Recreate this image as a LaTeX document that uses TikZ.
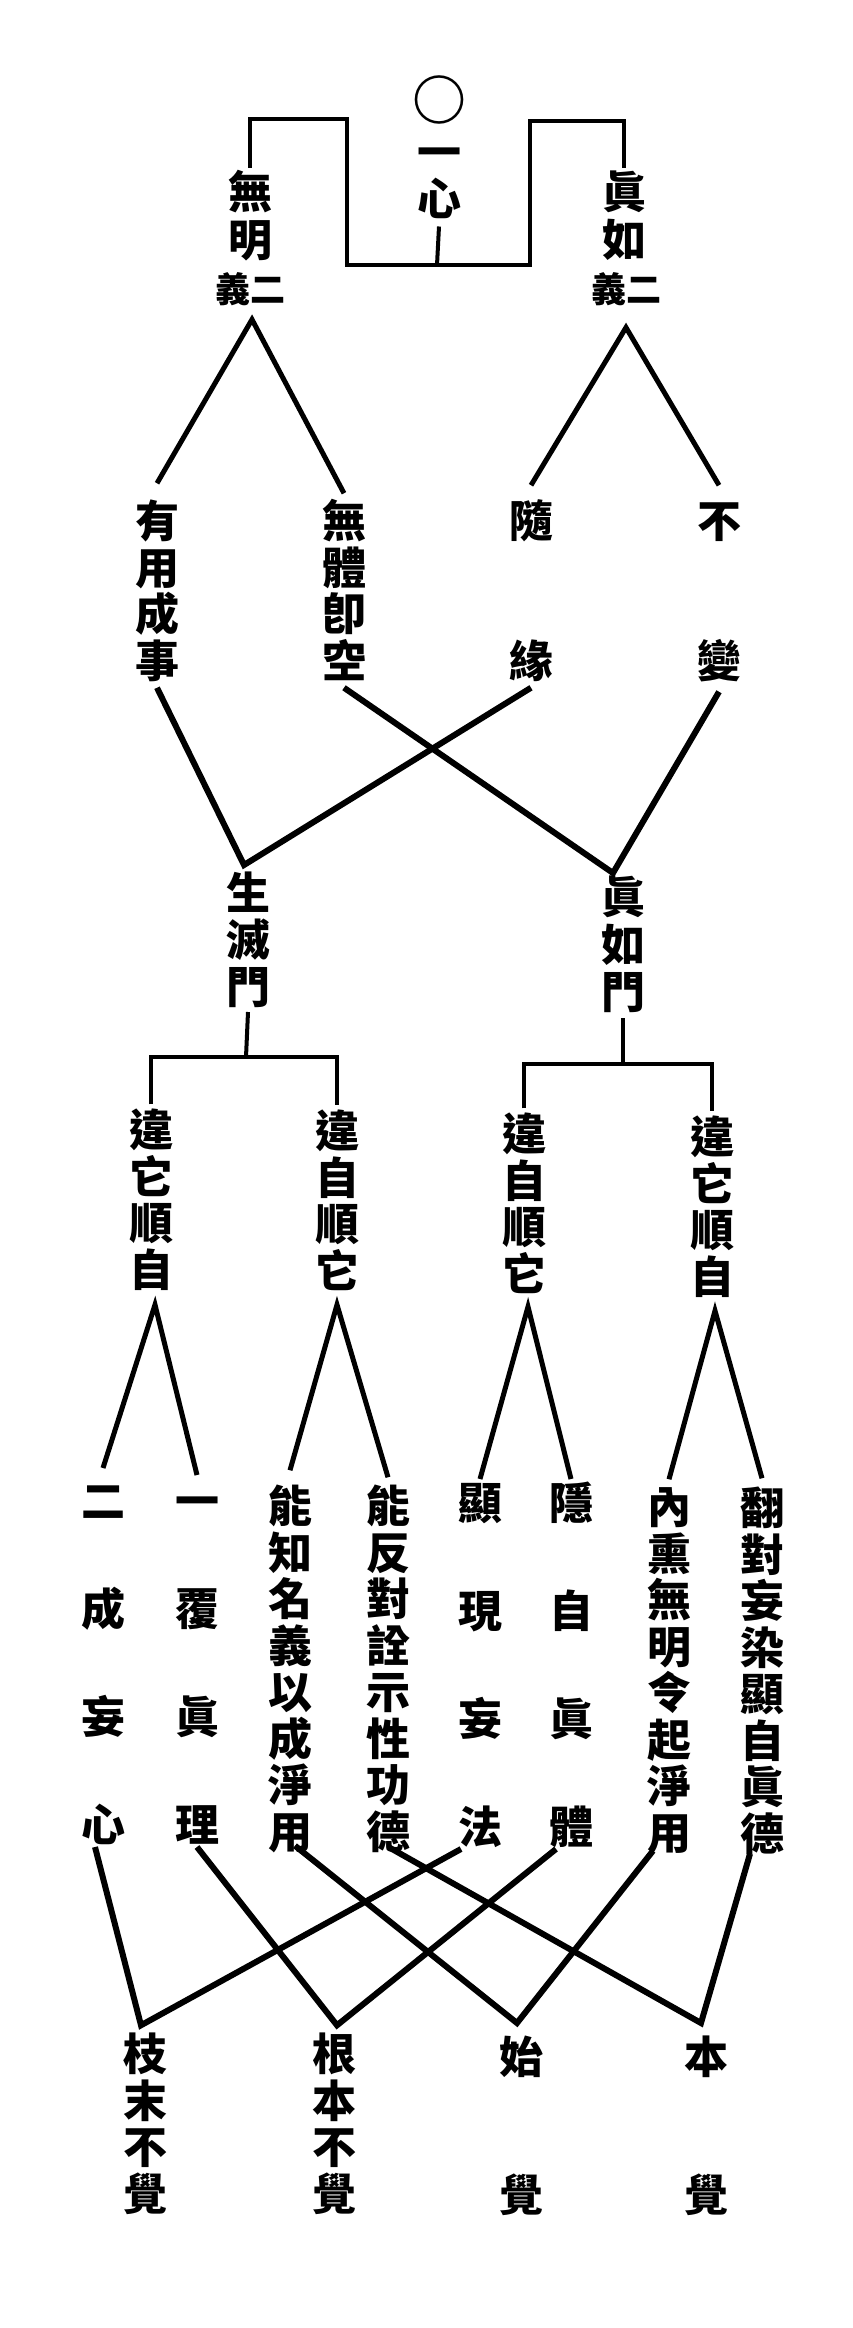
\documentclass[tikz,border=0pt]{standalone}
\usepackage{fontspec}
\newfontfamily\cjk{Noto Sans CJK TC}
\usepackage{tikz}
\newcommand\cjkstrut{\rule[-.12em]{0pt}{1em}}
\newcommand\colchars[1]{\cjkstrut#1\cjkstrut}
\tikzset{
    vcol/.style={align=center,inner sep=0pt,outer sep=0pt,font=\cjk\bfseries\fontsize{44}{#1}\selectfont},
    vcol/.default=46.5,
    note/.style={inner sep=0pt,outer sep=0pt,font=\cjk\bfseries\fontsize{35}{35}\selectfont},
    brk/.style={line width=4pt},
    branch/.style={line width=5pt},
    cross/.style={line width=6pt}
}

\begin{document}
\begin{tikzpicture}[x=1pt,y=-1pt]
    \useasboundingbox (0,0) rectangle (852,2328);
    \node[vcol] (yixin) at (439,149.25) {\colchars{\raisebox{-3.8pt}[0pt][0pt]{\fontsize{54}{54}\selectfont ○}\\[5.5pt]一\\心}};
    \node[vcol=48] (wuming) at (250,216) {\colchars{無\\明}};
    \node[note] (wmyi) at (250,289) {\cjkstrut 義二};
    \node[vcol=48] (zhenru) at (624,216) {\colchars{眞\\如}};
    \node[note] (zryi) at (626,289) {\cjkstrut 義二};
    \coordinate (kneeL) at (347,119);
    \coordinate (kneeR) at (530,121);
    \coordinate (base) at (437,265);
    \draw[brk] ([yshift=2pt]wuming.north) |- (kneeL) |- (base) -| (kneeR) -| ([yshift=2pt]zhenru.north);
    \draw[brk] ([yshift=-6pt]yixin.south) -- (base);

    \node[vcol] (yong) at (157,591) {\colchars{有\\用\\成\\事}};
    \node[vcol] (kong) at (344,591) {\colchars{無\\體\\卽\\空}};
    \node[vcol=139.5] (sui) at (531,591) {\colchars{隨\\緣}};
    \node[vcol=139.5] (bu) at (719,591) {\colchars{不\\變}};
    \draw[branch] ([yshift=16pt]yong.north) -- ([xshift=2pt,yshift=-13pt]wmyi.south) -- ([yshift=6pt]kong.north);
    \draw[branch] ([yshift=14pt]sui.north) -- ([yshift=-21pt]zryi.south) -- ([yshift=14pt]bu.north);

    \node[vcol=47] (smm) at (248,940) {\colchars{生\\滅\\門}};
    \node[vcol=47.5] (zrm) at (623,944.5) {\colchars{眞\\如\\門}};
    \draw[cross] ([yshift=-5pt]yong.south) -- ([xshift=-4pt,yshift=6pt]smm.north) -- ([yshift=-5pt]sui.south);
    \draw[cross] ([yshift=-5pt]kong.south) -- ([xshift=-10pt,yshift=2pt]zrm.north) -- ([yshift=-9pt]bu.south);

    \node[vcol] (weitaL) at (151,1200) {\colchars{違\\它\\順\\自}};
    \node[vcol] (weiziL) at (337,1201) {\colchars{違\\自\\順\\它}};
    \node[vcol] (weiziR) at (524,1204) {\colchars{違\\自\\順\\它}};
    \node[vcol] (weitaR) at (712,1207) {\colchars{違\\它\\順\\自}};
    \coordinate (smk) at (246,1057);
    \coordinate (zrk) at (623,1064);
    \draw[brk] ([yshift=-3pt]smm.south) -- (smk);
    \draw[brk] ([yshift=4pt]weitaL.north) |- (smk) -| ([yshift=4pt]weiziL.north);
    \draw[brk] ([yshift=-4pt]zrm.south) -- (zrk);
    \draw[brk] ([yshift=4pt]weiziR.north) |- (zrk) -| ([yshift=4pt]weitaR.north);

    \node[vcol=108] (erxin) at (103,1663) {\colchars{二\\成\\妄\\心}};
    \node[vcol=108] (yifu) at (197,1663) {\colchars{一\\覆\\眞\\理}};
    \node[vcol] (nengzhi) at (290,1669) {\colchars{能\\知\\名\\義\\以\\成\\淨\\用}};
    \node[vcol] (nengfan) at (388,1669) {\colchars{能\\反\\對\\詮\\示\\性\\功\\德}};
    \node[vcol=108] (xianxian) at (480,1665) {\colchars{顯\\現\\妄\\法}};
    \node[vcol=108] (yinzi) at (571,1665) {\colchars{隱\\自\\眞\\體}};
    \node[vcol] (neixun) at (669,1670) {\colchars{內\\熏\\無\\明\\令\\起\\淨\\用}};
    \node[vcol] (fandui) at (762,1671) {\colchars{翻\\對\\妄\\染\\顯\\自\\眞\\德}};
    \draw[branch] ([yshift=11pt]erxin.north) -- ([xshift=4pt,yshift=-13pt]weitaL.south) -- ([yshift=4pt]yifu.north);
    \draw[branch] ([yshift=14pt]nengzhi.north) -- ([yshift=-12pt]weiziL.south) -- ([yshift=7pt]nengfan.north);
    \draw[branch] ([yshift=2pt]xianxian.north) -- ([xshift=4pt,yshift=-11pt]weiziR.south) -- ([yshift=2pt]yinzi.north);
    \draw[branch] ([yshift=6pt]neixun.north) -- ([xshift=3pt,yshift=-12pt]weitaR.south) -- ([yshift=8pt]fandui.north);

    \node[vcol] (zhimo) at (145,2124) {\colchars{枝\\末\\不\\覺}};
    \node[vcol] (genben) at (334,2124) {\colchars{根\\本\\不\\覺}};
    \node[vcol=138] (shijue) at (521,2126) {\colchars{始\\覺}};
    \node[vcol=138] (benjue) at (706,2126) {\colchars{本\\覺}};
    \draw[cross] ([xshift=-8pt]erxin.south) -- ([xshift=-4pt,yshift=7pt]zhimo.north) -- ([xshift=-19pt]xianxian.south);
    \draw[cross] (yifu.south) -- ([xshift=3pt,yshift=7pt]genben.north) -- ([xshift=-15pt]yinzi.south);
    \draw[cross] ([xshift=5pt,yshift=8pt]nengzhi.south) -- ([xshift=-4pt,yshift=12pt]shijue.north) -- ([xshift=-16pt,yshift=4pt]neixun.south);
    \draw[cross] ([yshift=7pt]nengfan.south) -- ([xshift=-5pt,yshift=12pt]benjue.north) -- ([xshift=-12pt,yshift=2pt]fandui.south);
\end{tikzpicture}
\end{document}
